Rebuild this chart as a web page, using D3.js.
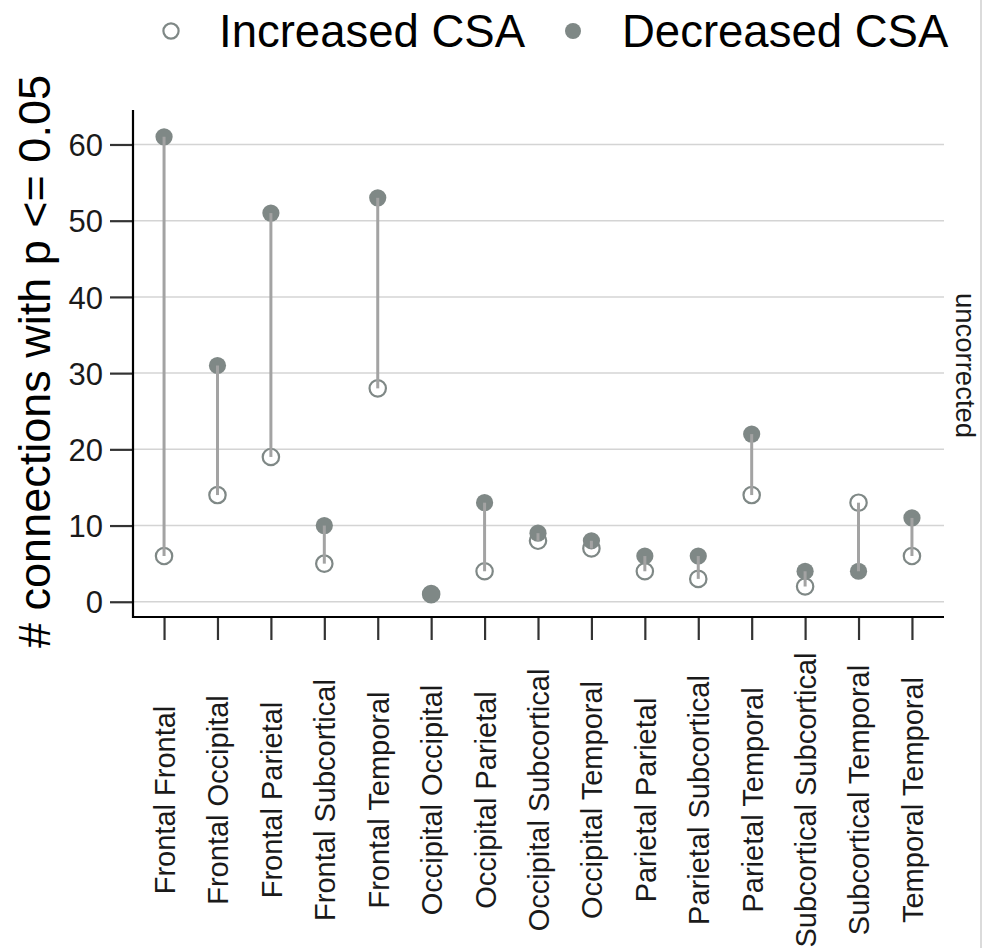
<!DOCTYPE html>
<html>
<head>
<meta charset="utf-8">
<script src="https://cdn.jsdelivr.net/npm/d3@7"></script>
<style>
  html, body { margin: 0; padding: 0; background: #fff; }
  svg { display: block; font-family: "Liberation Sans", Arial, Helvetica, sans-serif; }
</style>
</head>
<body>
<svg id="chart" width="982" height="948"></svg>
<script>
const categories = [
  "Frontal Frontal", "Frontal Occipital", "Frontal Parietal", "Frontal Subcortical",
  "Frontal Temporal", "Occipital Occipital", "Occipital Parietal", "Occipital Subcortical",
  "Occipital Temporal", "Parietal Parietal", "Parietal Subcortical", "Parietal Temporal",
  "Subcortical Subcortical", "Subcortical Temporal", "Temporal Temporal"
];
const increased = [6, 14, 19, 5, 28, 1, 4, 8, 7, 4, 3, 14, 2, 13, 6];
const decreased = [61, 31, 51, 10, 53, 1, 13, 9, 8, 6, 6, 22, 4, 4, 11];
const yTicks = [0, 10, 20, 30, 40, 50, 60];
const seriesNames = ["Increased CSA", "Decreased CSA"];
const facetLabel = "uncorrected";
const yTitle = "# connections with p <= 0.05";

const svg = d3.select("#chart");
const panel = { left: 132, right: 944, top: 114, bottom: 617 };

const x = d3.scalePoint().domain(categories).range([panel.left, panel.right]).padding(0.6);
const y = d3.scaleLinear().domain([-2, 64]).range([panel.bottom, panel.top]);

const pointColor = "#7f8886";
const segColor = "#a3a3a3";

// gridlines
svg.append("g").selectAll("line").data(yTicks).join("line")
  .attr("x1", panel.left).attr("x2", panel.right)
  .attr("y1", d => y(d)).attr("y2", d => y(d))
  .attr("stroke", "#d4d4d4").attr("stroke-width", 1.5);

// points
const rows = categories.map((c, i) => ({ c, inc: increased[i], dec: decreased[i] }));
svg.append("g").selectAll("circle").data(rows).join("circle")
  .attr("cx", d => x(d.c)).attr("cy", d => y(d.inc)).attr("r", 8.2)
  .attr("fill", "none").attr("stroke", pointColor).attr("stroke-width", 2.2);
svg.append("g").selectAll("circle").data(rows).join("circle")
  .attr("cx", d => x(d.c)).attr("cy", d => y(d.dec)).attr("r", 8.6)
  .attr("fill", pointColor);
// segments
svg.append("g").selectAll("line").data(rows).join("line")
  .attr("x1", d => x(d.c)).attr("x2", d => x(d.c))
  .attr("y1", d => y(d.inc)).attr("y2", d => y(d.dec))
  .attr("stroke", segColor).attr("stroke-width", 3);

// y axis
const yAxis = d3.axisLeft(y).tickValues(yTicks).tickSize(22).tickPadding(7);
const gy = svg.append("g").attr("transform", `translate(${panel.left},0)`).call(yAxis);
gy.select(".domain").remove();
gy.selectAll(".tick line").attr("stroke", "#333").attr("stroke-width", 2.2);
gy.selectAll(".tick text").attr("font-size", 31).attr("fill", "#1a1a1a")
  .attr("font-family", "Liberation Sans, Arial, sans-serif").attr("dy", "0.36em");

// x axis
const xAxis = d3.axisBottom(x).tickSize(23).tickFormat("");
const gx = svg.append("g").attr("transform", `translate(0,${panel.bottom})`).call(xAxis);
gx.select(".domain").remove();
gx.selectAll(".tick line").attr("stroke", "#333").attr("stroke-width", 2.2);
gx.selectAll(".tick").append("text")
  .attr("transform", "translate(0,183) rotate(-90)")
  .attr("text-anchor", "middle").attr("dy", "0.36em")
  .attr("font-size", 29).attr("fill", "#1a1a1a")
  .attr("font-family", "Liberation Sans, Arial, sans-serif")
  .text(d => d);

// axis lines
svg.append("line").attr("x1", panel.left + 1).attr("x2", panel.left + 1)
  .attr("y1", panel.top - 4).attr("y2", panel.bottom + 1)
  .attr("stroke", "#000").attr("stroke-width", 2.2);
svg.append("line").attr("x1", panel.left).attr("x2", panel.right)
  .attr("y1", panel.bottom).attr("y2", panel.bottom)
  .attr("stroke", "#000").attr("stroke-width", 2.2);

// y title
svg.append("text")
  .attr("transform", `translate(50,${(panel.top + panel.bottom) / 2 - 4}) rotate(-90)`)
  .attr("text-anchor", "middle").attr("font-size", 45).attr("fill", "#000")
  .text(yTitle);

// facet strip label
svg.append("text")
  .attr("transform", `translate(956,${(panel.top + panel.bottom) / 2}) rotate(90)`)
  .attr("text-anchor", "middle").attr("font-size", 27.5).attr("fill", "#1a1a1a")
  .text(facetLabel);

// legend
const legend = svg.append("g");
const legendItems = [
  { name: seriesNames[0], cx: 171, tx: 219, filled: false },
  { name: seriesNames[1], cx: 573, tx: 622, filled: true }
];
legendItems.forEach(it => {
  legend.append("circle").attr("cx", it.cx).attr("cy", 31).attr("r", it.filled ? 8 : 7.6)
    .attr("fill", it.filled ? pointColor : "none")
    .attr("stroke", it.filled ? "none" : pointColor).attr("stroke-width", 2.2);
  legend.append("text").attr("x", it.tx).attr("y", 47).attr("font-size", 45.5)
    .attr("fill", "#000").text(it.name);
});

// right edge border
svg.append("line").attr("x1", 981).attr("x2", 981).attr("y1", 0).attr("y2", 948)
  .attr("stroke", "#cfcfcf").attr("stroke-width", 1.5);
</script>
</body>
</html>
